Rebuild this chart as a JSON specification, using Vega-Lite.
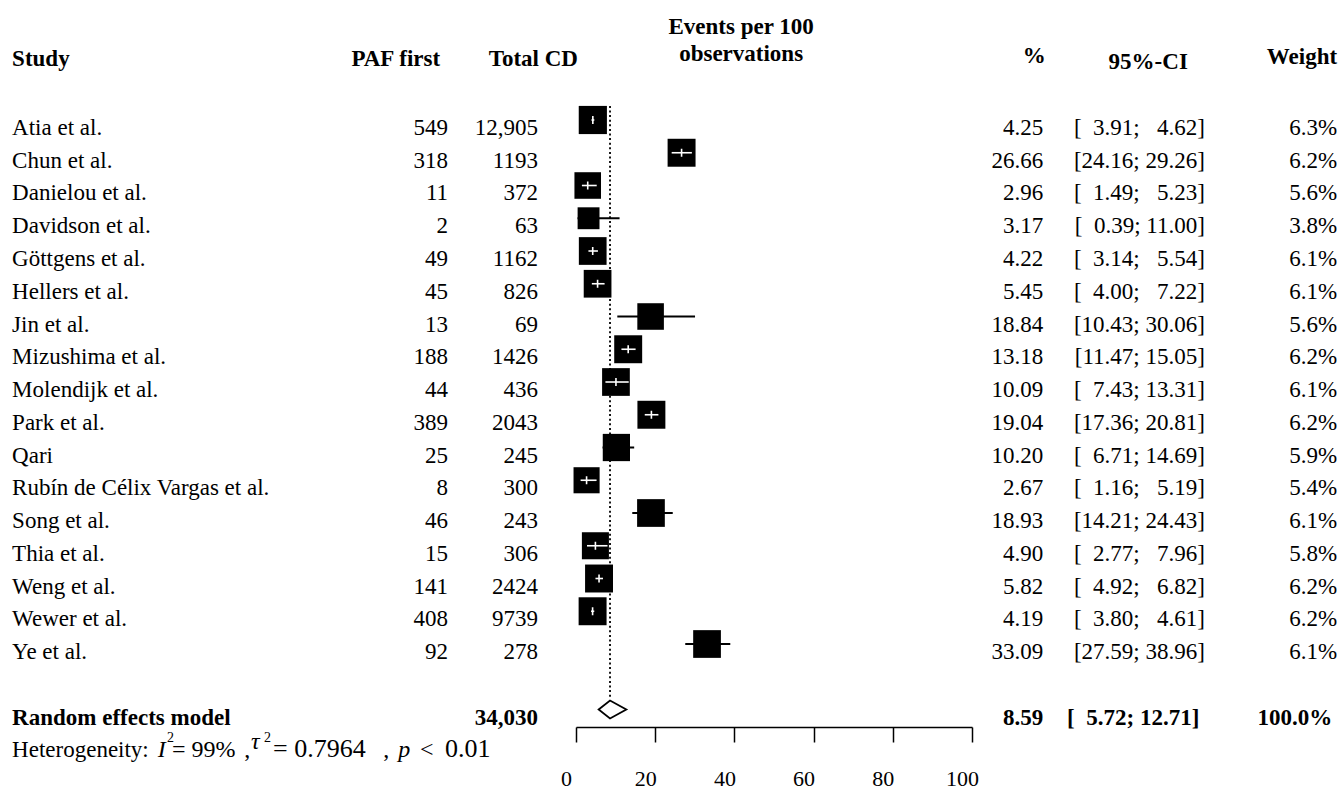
{
  "$schema": "https://vega.github.io/schema/vega-lite/v6.json",
  "width": 396,
  "height": 727,
  "autosize": {"type": "none"},
  "padding": {"left": 576, "right": 369, "top": 0, "bottom": 68},
  "background": "white",
  "config": {
    "view": {"stroke": null},
    "font": "Liberation Serif",
    "text": {"font": "Liberation Serif", "fontSize": 23, "color": "black"},
    "axis": {"labelFont": "Liberation Serif"}
  },
  "datasets": {
    "studies": [
      {"row": 0, "study": "Atia et al.", "paf": 549, "total": "12,905", "est": 4.25, "lo": 3.91, "hi": 4.62, "weight": 6.3},
      {"row": 1, "study": "Chun et al.", "paf": 318, "total": "1193", "est": 26.66, "lo": 24.16, "hi": 29.26, "weight": 6.2},
      {"row": 2, "study": "Danielou et al.", "paf": 11, "total": "372", "est": 2.96, "lo": 1.49, "hi": 5.23, "weight": 5.6},
      {"row": 3, "study": "Davidson et al.", "paf": 2, "total": "63", "est": 3.17, "lo": 0.39, "hi": 11.0, "weight": 3.8},
      {"row": 4, "study": "Göttgens et al.", "paf": 49, "total": "1162", "est": 4.22, "lo": 3.14, "hi": 5.54, "weight": 6.1},
      {"row": 5, "study": "Hellers et al.", "paf": 45, "total": "826", "est": 5.45, "lo": 4.0, "hi": 7.22, "weight": 6.1},
      {"row": 6, "study": "Jin et al.", "paf": 13, "total": "69", "est": 18.84, "lo": 10.43, "hi": 30.06, "weight": 5.6},
      {"row": 7, "study": "Mizushima et al.", "paf": 188, "total": "1426", "est": 13.18, "lo": 11.47, "hi": 15.05, "weight": 6.2},
      {"row": 8, "study": "Molendijk et al.", "paf": 44, "total": "436", "est": 10.09, "lo": 7.43, "hi": 13.31, "weight": 6.1},
      {"row": 9, "study": "Park et al.", "paf": 389, "total": "2043", "est": 19.04, "lo": 17.36, "hi": 20.81, "weight": 6.2},
      {"row": 10, "study": "Qari", "paf": 25, "total": "245", "est": 10.2, "lo": 6.71, "hi": 14.69, "weight": 5.9},
      {"row": 11, "study": "Rubín de Célix Vargas et al.", "paf": 8, "total": "300", "est": 2.67, "lo": 1.16, "hi": 5.19, "weight": 5.4},
      {"row": 12, "study": "Song et al.", "paf": 46, "total": "243", "est": 18.93, "lo": 14.21, "hi": 24.43, "weight": 6.1},
      {"row": 13, "study": "Thia et al.", "paf": 15, "total": "306", "est": 4.9, "lo": 2.77, "hi": 7.96, "weight": 5.8},
      {"row": 14, "study": "Weng et al.", "paf": 141, "total": "2424", "est": 5.82, "lo": 4.92, "hi": 6.82, "weight": 6.2},
      {"row": 15, "study": "Wewer et al.", "paf": 408, "total": "9739", "est": 4.19, "lo": 3.8, "hi": 4.61, "weight": 6.2},
      {"row": 16, "study": "Ye et al.", "paf": 92, "total": "278", "est": 33.09, "lo": 27.59, "hi": 38.96, "weight": 6.1}
    ],
    "summary": [
      {"row": 18, "label": "Random effects model", "total": "34,030", "est": 8.59, "lo": 5.72, "hi": 12.71, "weight": 100.0}
    ]
  },
  "layer": [
    {
      "data": {"name": "summary"},
      "mark": {"type": "rule", "color": "black", "strokeWidth": 1.8, "strokeDash": [2, 2.6]},
      "encoding": {
        "x": {"field": "est", "type": "quantitative", "scale": {"domain": [0, 100], "nice": false, "zero": false},
              "axis": {"values": [0, 20, 40, 60, 80, 100], "title": null, "grid": false, "domainColor": "black", "domainWidth": 1.5, "tickColor": "black", "tickWidth": 1.5, "tickSize": 15, "labelFontSize": 22, "labelColor": "black", "labelPadding": 26, "labelFlush": false, "labelOffset": -10}},
        "y": {"datum": -0.43, "type": "quantitative", "scale": {"domain": [-3.664, 18.534], "reverse": true, "nice": false, "zero": false}, "axis": null},
        "y2": {"datum": 17.65}
      }
    },
    {
      "data": {"name": "studies"},
      "mark": {"type": "rule", "color": "black", "strokeWidth": 1.8},
      "encoding": {
        "x": {"field": "lo", "type": "quantitative"},
        "x2": {"field": "hi"},
        "y": {"field": "row", "type": "quantitative"}
      }
    },
    {
      "data": {"name": "studies"},
      "mark": {"type": "point", "shape": "square", "filled": true, "color": "black", "opacity": 1, "strokeWidth": 0},
      "encoding": {
        "x": {"field": "est", "type": "quantitative"},
        "y": {"field": "row", "type": "quantitative"},
        "size": {"field": "weight", "type": "quantitative", "scale": {"type": "linear", "zero": true, "domain": [0, 6.3], "range": [0, 794]}, "legend": null}
      }
    },
    {
      "data": {"name": "studies"},
      "transform": [{"filter": "(datum.hi - datum.est) < 3.4 && (datum.est - datum.lo) < 3.4"}],
      "mark": {"type": "rule", "color": "white", "strokeWidth": 1.6},
      "encoding": {
        "x": {"field": "lo", "type": "quantitative"},
        "x2": {"field": "hi"},
        "y": {"field": "row", "type": "quantitative"}
      }
    },
    {
      "data": {"name": "studies"},
      "transform": [{"filter": "(datum.hi - datum.est) < 3.4 && (datum.est - datum.lo) < 3.4"}],
      "mark": {"type": "point", "shape": "M0,-1L0,1", "filled": false, "stroke": "white", "strokeWidth": 1.6, "opacity": 1, "size": 64},
      "encoding": {
        "x": {"field": "est", "type": "quantitative"},
        "y": {"field": "row", "type": "quantitative"}
      }
    },
    {
      "data": {"name": "summary"},
      "transform": [
        {"fold": ["lo", "est", "hi"], "as": ["k", "xv"]},
        {"calculate": "datum.k === 'est' ? 0.275 : 0", "as": "h"},
        {"calculate": "datum.row - datum.h", "as": "ytop"},
        {"calculate": "datum.row + datum.h", "as": "ybot"}
      ],
      "mark": {"type": "area", "fill": "white", "stroke": "black", "strokeWidth": 1.8, "orient": "vertical"},
      "encoding": {
        "x": {"field": "xv", "type": "quantitative"},
        "y": {"field": "ytop", "type": "quantitative"},
        "y2": {"field": "ybot"}
      }
    },
    {
      "data": {"name": "studies"},
      "mark": {"type": "text", "align": "left", "baseline": "alphabetic", "dy": 15},
      "encoding": {"x": {"datum": -142.4}, "y": {"field": "row", "type": "quantitative"}, "text": {"field": "study"}}
    },
    {
      "data": {"name": "studies"},
      "mark": {"type": "text", "align": "right", "baseline": "alphabetic", "dy": 15},
      "encoding": {"x": {"datum": -32.3}, "y": {"field": "row", "type": "quantitative"}, "text": {"field": "paf"}}
    },
    {
      "data": {"name": "studies"},
      "mark": {"type": "text", "align": "right", "baseline": "alphabetic", "dy": 15},
      "encoding": {"x": {"datum": -9.6}, "y": {"field": "row", "type": "quantitative"}, "text": {"field": "total"}}
    },
    {
      "data": {"name": "studies"},
      "mark": {"type": "text", "align": "right", "baseline": "alphabetic", "dy": 15},
      "encoding": {"x": {"datum": 118.0}, "y": {"field": "row", "type": "quantitative"}, "text": {"field": "est", "format": ".2f"}}
    },
    {
      "data": {"name": "studies"},
      "transform": [{"calculate": "'[' + (datum.lo < 10 ? '\u2007' : '') + format(datum.lo, '.2f') + '; ' + (datum.hi < 10 ? '\u2007' : '') + format(datum.hi, '.2f') + ']'", "as": "ci"}],
      "mark": {"type": "text", "align": "right", "baseline": "alphabetic", "dy": 15},
      "encoding": {"x": {"datum": 158.8}, "y": {"field": "row", "type": "quantitative"}, "text": {"field": "ci"}}
    },
    {
      "data": {"name": "studies"},
      "transform": [{"calculate": "format(datum.weight, '.1f') + '%'", "as": "wl"}],
      "mark": {"type": "text", "align": "right", "baseline": "alphabetic", "dy": 15},
      "encoding": {"x": {"datum": 192.2}, "y": {"field": "row", "type": "quantitative"}, "text": {"field": "wl"}}
    },
    {
      "data": {"name": "summary"},
      "mark": {"type": "text", "align": "left", "baseline": "alphabetic", "dy": 15, "fontWeight": "bold"},
      "encoding": {"x": {"datum": -142.4}, "y": {"field": "row", "type": "quantitative"}, "text": {"field": "label"}}
    },
    {
      "data": {"name": "summary"},
      "mark": {"type": "text", "align": "right", "baseline": "alphabetic", "dy": 15, "fontWeight": "bold"},
      "encoding": {"x": {"datum": -9.6}, "y": {"field": "row", "type": "quantitative"}, "text": {"field": "total"}}
    },
    {
      "data": {"name": "summary"},
      "mark": {"type": "text", "align": "right", "baseline": "alphabetic", "dy": 15, "fontWeight": "bold"},
      "encoding": {"x": {"datum": 118.0}, "y": {"field": "row", "type": "quantitative"}, "text": {"field": "est", "format": ".2f"}}
    },
    {
      "data": {"name": "summary"},
      "transform": [{"calculate": "'[' + (datum.lo < 10 ? '\u2007' : '') + format(datum.lo, '.2f') + '; ' + (datum.hi < 10 ? '\u2007' : '') + format(datum.hi, '.2f') + ']'", "as": "ci"}],
      "mark": {"type": "text", "align": "right", "baseline": "alphabetic", "dy": 15, "fontWeight": "bold"},
      "encoding": {"x": {"datum": 157.4}, "y": {"field": "row", "type": "quantitative"}, "text": {"field": "ci"}}
    },
    {
      "data": {"name": "summary"},
      "transform": [{"calculate": "format(datum.weight, '.1f') + '%'", "as": "wl"}],
      "mark": {"type": "text", "align": "right", "baseline": "alphabetic", "dy": 15, "fontWeight": "bold"},
      "encoding": {"x": {"datum": 191.0}, "y": {"field": "row", "type": "quantitative"}, "text": {"field": "wl"}}
    },
    {
      "data": {"values": [{"t": "Heterogeneity:"}]},
      "mark": {"type": "text", "align": "left", "baseline": "alphabetic"},
      "encoding": {"x": {"datum": -142.4}, "y": {"datum": 19.45}, "text": {"field": "t"}}
    },
    {
      "data": {"values": [{"t": "I"}]},
      "mark": {"type": "text", "align": "left", "baseline": "alphabetic", "fontStyle": "italic", "fontSize": 24},
      "encoding": {"x": {"datum": -105.6}, "y": {"datum": 19.45}, "text": {"field": "t"}}
    },
    {
      "data": {"values": [{"t": "2"}]},
      "mark": {"type": "text", "align": "left", "baseline": "alphabetic", "fontSize": 14},
      "encoding": {"x": {"datum": -103.3}, "y": {"datum": 19.0}, "text": {"field": "t"}}
    },
    {
      "data": {"values": [{"t": "= 99%"}]},
      "mark": {"type": "text", "align": "left", "baseline": "alphabetic", "fontSize": 24},
      "encoding": {"x": {"datum": -102.0}, "y": {"datum": 19.45}, "text": {"field": "t"}}
    },
    {
      "data": {"values": [{"t": ","}]},
      "mark": {"type": "text", "align": "left", "baseline": "alphabetic", "fontSize": 24},
      "encoding": {"x": {"datum": -83.8}, "y": {"datum": 19.45}, "text": {"field": "t"}}
    },
    {
      "data": {"values": [{"t": "τ"}]},
      "mark": {"type": "text", "align": "left", "baseline": "alphabetic", "fontStyle": "italic", "fontSize": 24},
      "encoding": {"x": {"datum": -82.1}, "y": {"datum": 19.2}, "text": {"field": "t"}}
    },
    {
      "data": {"values": [{"t": "2"}]},
      "mark": {"type": "text", "align": "left", "baseline": "alphabetic", "fontSize": 14},
      "encoding": {"x": {"datum": -78.8}, "y": {"datum": 19.0}, "text": {"field": "t"}}
    },
    {
      "data": {"values": [{"t": "= 0.7964"}]},
      "mark": {"type": "text", "align": "left", "baseline": "alphabetic", "fontSize": 26},
      "encoding": {"x": {"datum": -76.5}, "y": {"datum": 19.45}, "text": {"field": "t"}}
    },
    {
      "data": {"values": [{"t": ","}]},
      "mark": {"type": "text", "align": "left", "baseline": "alphabetic", "fontSize": 24},
      "encoding": {"x": {"datum": -48.7}, "y": {"datum": 19.45}, "text": {"field": "t"}}
    },
    {
      "data": {"values": [{"t": "p"}]},
      "mark": {"type": "text", "align": "left", "baseline": "alphabetic", "fontStyle": "italic", "fontSize": 24},
      "encoding": {"x": {"datum": -44.9}, "y": {"datum": 19.45}, "text": {"field": "t"}}
    },
    {
      "data": {"values": [{"t": "<"}]},
      "mark": {"type": "text", "align": "left", "baseline": "alphabetic", "fontSize": 24},
      "encoding": {"x": {"datum": -39.4}, "y": {"datum": 19.45}, "text": {"field": "t"}}
    },
    {
      "data": {"values": [{"t": "0.01"}]},
      "mark": {"type": "text", "align": "left", "baseline": "alphabetic", "fontSize": 26},
      "encoding": {"x": {"datum": -33.1}, "y": {"datum": 19.45}, "text": {"field": "t"}}
    },
    {
      "data": {"values": [{"t": "Study"}]},
      "mark": {"type": "text", "align": "left", "baseline": "alphabetic", "fontWeight": "bold"},
      "encoding": {"x": {"datum": -142.4}, "y": {"datum": -1.64}, "text": {"field": "t"}}
    },
    {
      "data": {"values": [{"t": "PAF first"}]},
      "mark": {"type": "text", "align": "right", "baseline": "alphabetic", "fontWeight": "bold"},
      "encoding": {"x": {"datum": -34.3}, "y": {"datum": -1.64}, "text": {"field": "t"}}
    },
    {
      "data": {"values": [{"t": "Total CD"}]},
      "mark": {"type": "text", "align": "right", "baseline": "alphabetic", "fontWeight": "bold"},
      "encoding": {"x": {"datum": 0.5}, "y": {"datum": -1.64}, "text": {"field": "t"}}
    },
    {
      "data": {"values": [{"t": "Events per 100"}, {"t": "observations"}]},
      "mark": {"type": "text", "align": "center", "baseline": "alphabetic", "fontWeight": "bold"},
      "encoding": {"x": {"datum": 41.7}, "y": {"field": "yy", "type": "quantitative"}, "text": {"field": "t"}},
      "transform": [{"calculate": "datum.t === 'Events per 100' ? -2.62 : -1.8", "as": "yy"}]
    },
    {
      "data": {"values": [{"t": "%"}]},
      "mark": {"type": "text", "align": "center", "baseline": "alphabetic", "fontWeight": "bold"},
      "encoding": {"x": {"datum": 115.7}, "y": {"datum": -1.74}, "text": {"field": "t"}}
    },
    {
      "data": {"values": [{"t": "95%-CI"}]},
      "mark": {"type": "text", "align": "center", "baseline": "alphabetic", "fontWeight": "bold"},
      "encoding": {"x": {"datum": 144.5}, "y": {"datum": -1.55}, "text": {"field": "t"}}
    },
    {
      "data": {"values": [{"t": "Weight"}]},
      "mark": {"type": "text", "align": "right", "baseline": "alphabetic", "fontWeight": "bold"},
      "encoding": {"x": {"datum": 192.2}, "y": {"datum": -1.72}, "text": {"field": "t"}}
    }
  ]
}
